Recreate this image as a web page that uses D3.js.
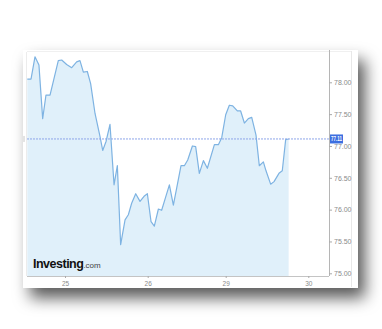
<!DOCTYPE html>
<html>
<head>
<meta charset="utf-8">
<script src="https://cdn.jsdelivr.net/npm/d3@7"></script>
<style>
  html, body { margin: 0; padding: 0; background: #fff; }
  svg { display: block; }
</style>
</head>
<body>
<script>
// Intraday price, session position (0 = day "25") and close
var sessionPos = [-0.456, -0.411, -0.363, -0.315, -0.270, -0.230, -0.181, -0.081, -0.040, 0.020,
    0.081, 0.141, 0.181, 0.222, 0.270, 0.310, 0.363, 0.423, 0.456, 0.496,
    0.544, 0.593, 0.633, 0.673, 0.726, 0.766, 0.806, 0.855, 0.907, 0.956,
    0.996, 1.043, 1.085, 1.137, 1.179, 1.231, 1.278, 1.329, 1.372, 1.427,
    1.470, 1.513, 1.573, 1.615, 1.662, 1.714, 1.765, 1.855, 1.906, 1.949,
    2.000, 2.044, 2.085, 2.141, 2.181, 2.226, 2.274, 2.315, 2.367, 2.407,
    2.456, 2.488, 2.544, 2.585, 2.645, 2.685, 2.726, 2.762];
var closePrices = [78.05, 78.05, 78.40, 78.27, 77.43, 77.80, 77.80, 78.34, 78.35, 78.28,
    78.23, 78.32, 78.34, 78.16, 78.17, 77.98, 77.51, 77.15, 76.93, 77.07,
    77.34, 76.39, 76.69, 75.45, 75.84, 75.92, 76.10, 76.25, 76.13, 76.21,
    76.25, 75.81, 75.74, 76.01, 75.99, 76.20, 76.39, 76.07, 76.34, 76.69,
    76.69, 76.78, 77.00, 76.99, 76.57, 76.77, 76.65, 77.02, 77.02, 77.13,
    77.49, 77.64, 77.63, 77.55, 77.55, 77.36, 77.43, 77.45, 77.17, 76.69,
    76.75, 76.61, 76.40, 76.44, 76.57, 76.61, 77.10, 77.11];
var lastPrice = 77.11;

var xTickPos = [0, 1, 2, 3];
var xTickLabels = ['25', '26', '29', '30'];
var yTicks = [75, 75.5, 76, 76.5, 77, 77.5, 78];

var w = 382;
var h = 329;

// card and plot box
var card = {x: 23, y: 50, w: 335, h: 238};
var plot = {left: 27, right: 329, top: 52, bottom: 276};

var svg = d3.select('body').append('svg').attr('width', w).attr('height', h);

var defs = svg.append('defs');
var shadow = defs.append('filter').attr('id', 'shadow')
    .attr('x', '-20%').attr('y', '-20%').attr('width', '150%').attr('height', '170%');
shadow.append('feDropShadow')
    .attr('dx', 7).attr('dy', 10)
    .attr('stdDeviation', 8)
    .attr('flood-color', '#000')
    .attr('flood-opacity', 0.65);

svg.append('rect')
    .attr('x', card.x).attr('y', card.y)
    .attr('width', card.w).attr('height', card.h)
    .attr('fill', '#fff')
    .attr('filter', 'url(#shadow)');

// faint frame lines
svg.append('line')
    .attr('x1', plot.left - 0.5).attr('x2', plot.left - 0.5)
    .attr('y1', plot.top).attr('y2', plot.bottom)
    .attr('stroke', '#ececec');
svg.append('line')
    .attr('x1', 351.5).attr('x2', 351.5)
    .attr('y1', card.y + 1).attr('y2', card.y + card.h - 1)
    .attr('stroke', '#e8e8e8');
svg.append('line')
    .attr('x1', plot.left).attr('x2', 351)
    .attr('y1', plot.top - 0.5).attr('y2', plot.top - 0.5)
    .attr('stroke', '#f0f0f0');

// scales (x is piecewise: the weekend is squeezed out)
var x = d3.scaleLinear().domain(xTickPos).range([65, 147.7, 225.7, 308.3]);
var y = d3.scaleLinear().domain([75, 78]).range([273.3, 82.3]);

var data = sessionPos.map(function(t, i) {
    return {t: t, v: closePrices[i]};
});

var area = d3.area()
    .x(function(d) { return x(d.t); })
    .y0(plot.bottom)
    .y1(function(d) { return y(d.v); });

var line = d3.line()
    .x(function(d) { return x(d.t); })
    .y(function(d) { return y(d.v); });

svg.append('path')
    .datum(data)
    .attr('d', area)
    .attr('fill', '#e0f0fa');

svg.append('path')
    .datum(data)
    .attr('d', line)
    .attr('fill', 'none')
    .attr('stroke', '#7eb3e2')
    .attr('stroke-width', 1.2)
    .attr('stroke-linejoin', 'round');

// last price line
svg.append('line')
    .attr('x1', plot.left).attr('x2', plot.right)
    .attr('y1', y(lastPrice)).attr('y2', y(lastPrice))
    .attr('stroke', '#8ea6ea')
    .attr('stroke-width', 1)
    .attr('stroke-dasharray', '2,1');
svg.append('line')
    .attr('x1', 24).attr('x2', 24)
    .attr('y1', y(lastPrice) - 3).attr('y2', y(lastPrice) + 3)
    .attr('stroke', '#c8c8c8');

// axes
var yAxis = d3.axisRight(y)
    .tickValues(yTicks)
    .tickSize(3)
    .tickPadding(2)
    .tickFormat(d3.format('.2f'));
var gy = svg.append('g')
    .attr('transform', 'translate(' + plot.right + ',0)')
    .call(yAxis);
gy.select('.domain').attr('d', 'M0.5,' + card.y + 'V' + plot.bottom).attr('stroke', '#b5b5b5');
gy.selectAll('.tick line').attr('stroke', '#aaa');
gy.selectAll('.tick text')
    .attr('fill', '#8a8a8a')
    .attr('font-family', 'Arial, "Liberation Sans", sans-serif')
    .attr('font-size', '7px');

var xAxis = d3.axisBottom(x)
    .tickValues(xTickPos)
    .tickSize(2)
    .tickPadding(3)
    .tickFormat(function(d, i) { return xTickLabels[i]; });
var gx = svg.append('g')
    .attr('transform', 'translate(0,' + plot.bottom + ')')
    .call(xAxis);
gx.select('.domain').attr('d', 'M' + plot.left + ',0.5H' + plot.right).attr('stroke', '#c4c4c4');
gx.selectAll('.tick line').attr('stroke', '#aaa');
gx.selectAll('.tick text')
    .attr('fill', '#8a8a8a')
    .attr('font-family', 'Arial, "Liberation Sans", sans-serif')
    .attr('font-size', '6.5px');

// last price badge
var badge = svg.append('g').attr('transform', 'translate(' + (plot.right + 1) + ',' + y(lastPrice) + ')');
badge.append('rect')
    .attr('x', 0).attr('y', -4.5)
    .attr('width', 13).attr('height', 9)
    .attr('fill', '#3d6fe0');
badge.append('text')
    .attr('x', 1).attr('y', 2.3)
    .attr('fill', '#fff')
    .attr('font-family', 'Arial, "Liberation Sans", sans-serif')
    .attr('font-size', '6.5px')
    .attr('font-weight', 'bold')
    .attr('textLength', 11)
    .attr('lengthAdjust', 'spacingAndGlyphs')
    .text(lastPrice.toFixed(2));

// watermark
var logo = svg.append('text')
    .attr('x', 33).attr('y', 268)
    .attr('font-family', 'Arial, "Liberation Sans", sans-serif')
    .attr('fill', '#111');
logo.append('tspan')
    .attr('font-size', '12.5px')
    .attr('font-weight', 'bold')
    .attr('letter-spacing', '-0.5')
    .text('Investing');
logo.append('tspan')
    .attr('font-size', '8px')
    .attr('fill', '#444')
    .text('.com');
</script>
</body>
</html>
